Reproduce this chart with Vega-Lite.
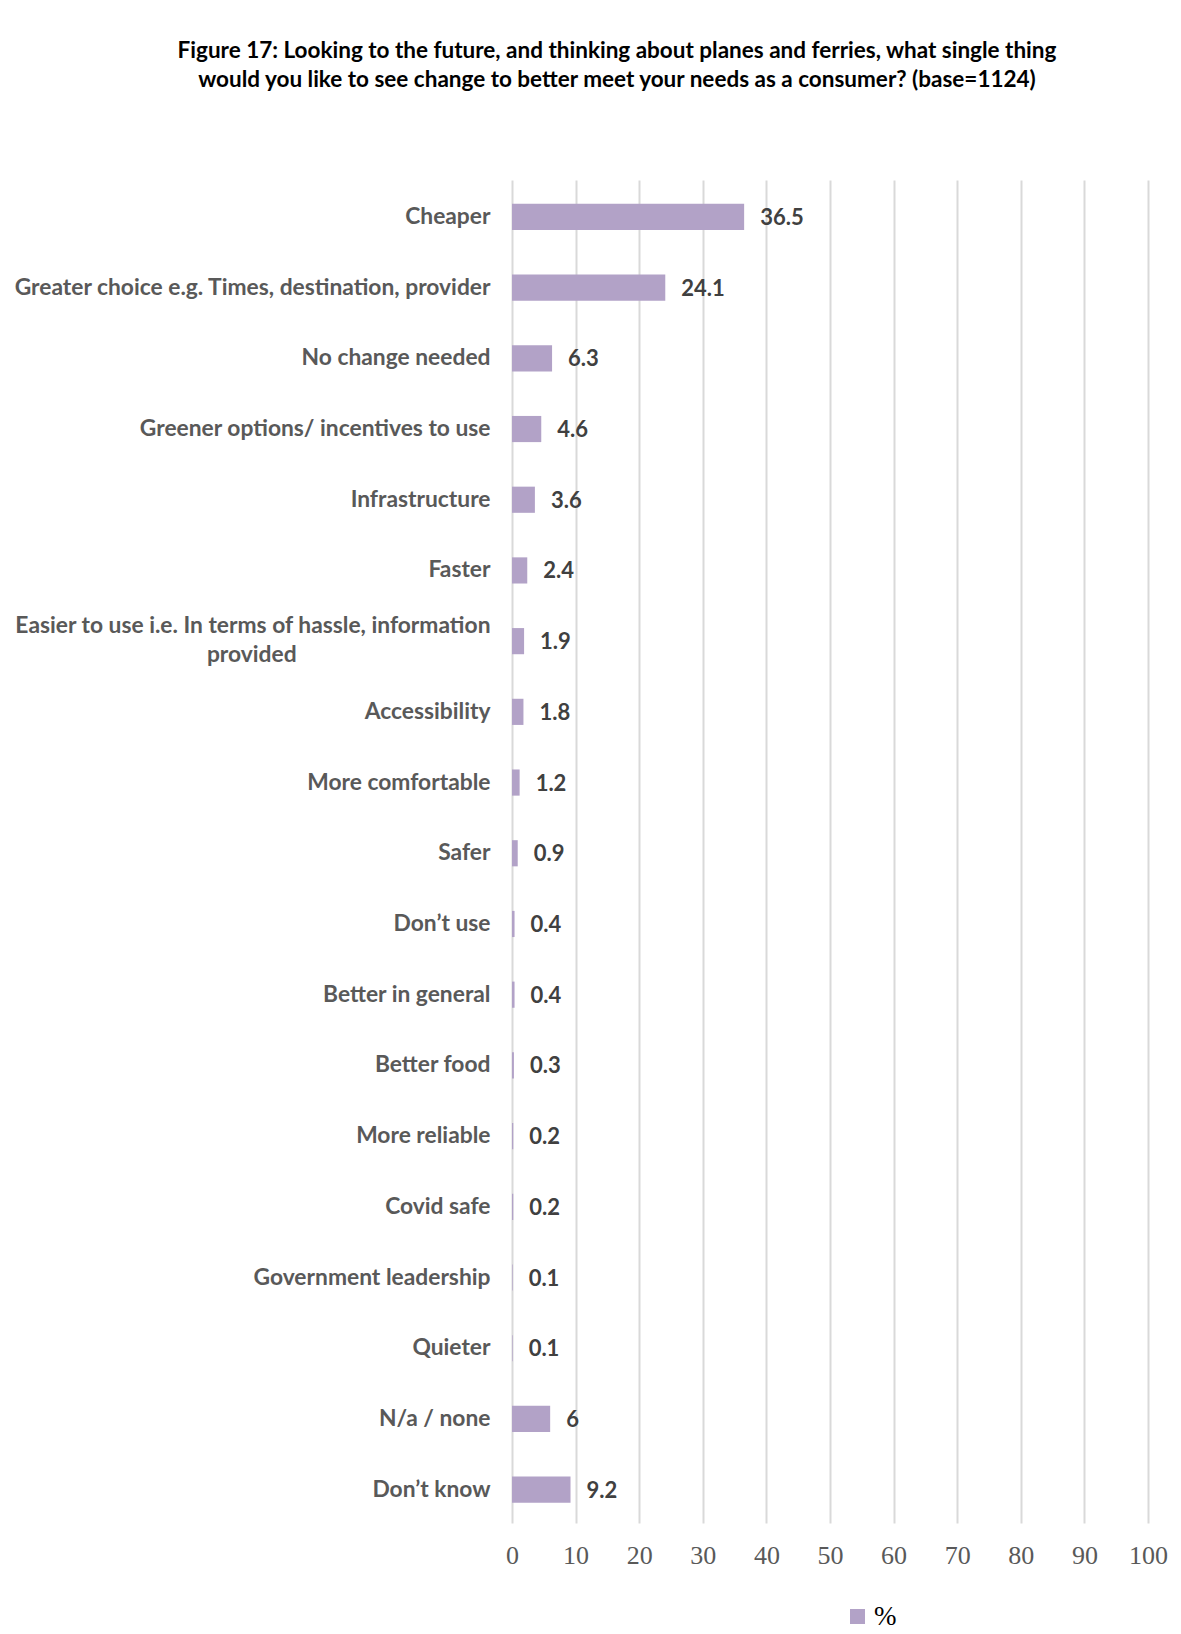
{
  "$schema": "https://vega.github.io/schema/vega-lite/v6.json",
  "autosize": {"type": "none"},
  "width": 636,
  "height": 1343,
  "padding": {"left": 512, "top": 180, "right": 33, "bottom": 111},
  "background": "white",
  "title": {
    "text": ["Figure 17: Looking to the future, and thinking about planes and ferries, what single thing", "would you like to see change to better meet your needs as a consumer? (base=1124)"],
    "anchor": "middle",
    "frame": "group",
    "dx": -213,
    "offset": 89,
    "font": "Lato",
    "fontSize": 22.5,
    "fontWeight": "bold",
    "color": "#000000",
    "lineHeight": 29
  },
  "data": {
    "values": [
      {"option": "Cheaper", "pct": 36.5, "series": "%"},
      {"option": "Greater choice e.g. Times, destination, provider", "pct": 24.1, "series": "%"},
      {"option": "No change needed", "pct": 6.3, "series": "%"},
      {"option": "Greener options/ incentives to use", "pct": 4.6, "series": "%"},
      {"option": "Infrastructure", "pct": 3.6, "series": "%"},
      {"option": "Faster", "pct": 2.4, "series": "%"},
      {"option": "Easier to use i.e. In terms of hassle, information provided", "pct": 1.9, "series": "%"},
      {"option": "Accessibility", "pct": 1.8, "series": "%"},
      {"option": "More comfortable", "pct": 1.2, "series": "%"},
      {"option": "Safer", "pct": 0.9, "series": "%"},
      {"option": "Don’t use", "pct": 0.4, "series": "%"},
      {"option": "Better in general", "pct": 0.4, "series": "%"},
      {"option": "Better food", "pct": 0.3, "series": "%"},
      {"option": "More reliable", "pct": 0.2, "series": "%"},
      {"option": "Covid safe", "pct": 0.2, "series": "%"},
      {"option": "Government leadership", "pct": 0.1, "series": "%"},
      {"option": "Quieter", "pct": 0.1, "series": "%"},
      {"option": "N/a / none", "pct": 6, "series": "%"},
      {"option": "Don’t know", "pct": 9.2, "series": "%"}
    ]
  },
  "encoding": {
    "y": {
      "field": "option",
      "type": "nominal",
      "sort": null,
      "scale": {"paddingInner": 0.63, "paddingOuter": 0.312, "align": 0.54},
      "axis": {
        "title": null,
        "domain": false,
        "ticks": false,
        "labelPadding": 22,
        "labelFont": "Lato",
        "labelFontSize": 22.8,
        "labelFontWeight": "bold",
        "labelColor": "#595959",
        "labelLimit": 600,
        "labelLineHeight": 29,
        "labelOffset": {"condition": {"test": "datum.value == 'Easier to use i.e. In terms of hassle, information provided'", "value": -15}, "value": 0},
        "labelExpr": "datum.value == 'Easier to use i.e. In terms of hassle, information provided' ? ['Easier to use i.e. In terms of hassle, information', 'provided\u00a0\u00a0\u00a0\u00a0\u00a0\u00a0\u00a0\u00a0\u00a0\u00a0\u00a0\u00a0\u00a0\u00a0\u00a0\u00a0\u00a0\u00a0\u00a0\u00a0\u00a0\u00a0\u00a0\u00a0\u00a0\u00a0\u00a0\u00a0\u00a0\u00a0\u00a0\u00a0\u00a0\u00a0\u00a0\u200b'] : datum.value"
      }
    },
    "x": {
      "field": "pct",
      "type": "quantitative",
      "scale": {"domain": [0, 100]},
      "axis": {
        "title": null,
        "values": [0, 10, 20, 30, 40, 50, 60, 70, 80, 90, 100],
        "domain": false,
        "ticks": false,
        "grid": true,
        "gridColor": "#d9d9d9",
        "gridWidth": 2,
        "labelFont": "Liberation Serif",
        "labelFontSize": 26,
        "labelColor": "#595959",
        "labelPadding": 19,
        "labelFlush": false
      }
    }
  },
  "layer": [
    {
      "mark": {"type": "bar", "color": "#b2a2c7"},
      "encoding": {
        "color": {
          "field": "series",
          "type": "nominal",
          "scale": {"range": ["#b2a2c7"]},
          "legend": {
            "title": null,
            "orient": "none",
            "legendX": 332,
            "legendY": 1423,
            "symbolType": "square",
            "symbolSize": 225,
            "symbolStrokeWidth": 0,
            "labelFont": "Liberation Serif",
            "labelFontSize": 27,
            "labelColor": "#000000",
            "labelOffset": 3
          }
        }
      }
    },
    {
      "mark": {"type": "text", "align": "left", "baseline": "middle", "dx": 16, "dy": 1, "font": "Lato", "fontSize": 22, "fontWeight": "bold", "color": "#404040"},
      "encoding": {"text": {"field": "pct", "type": "quantitative"}}
    }
  ],
  "config": {"view": {"stroke": null}}
}
